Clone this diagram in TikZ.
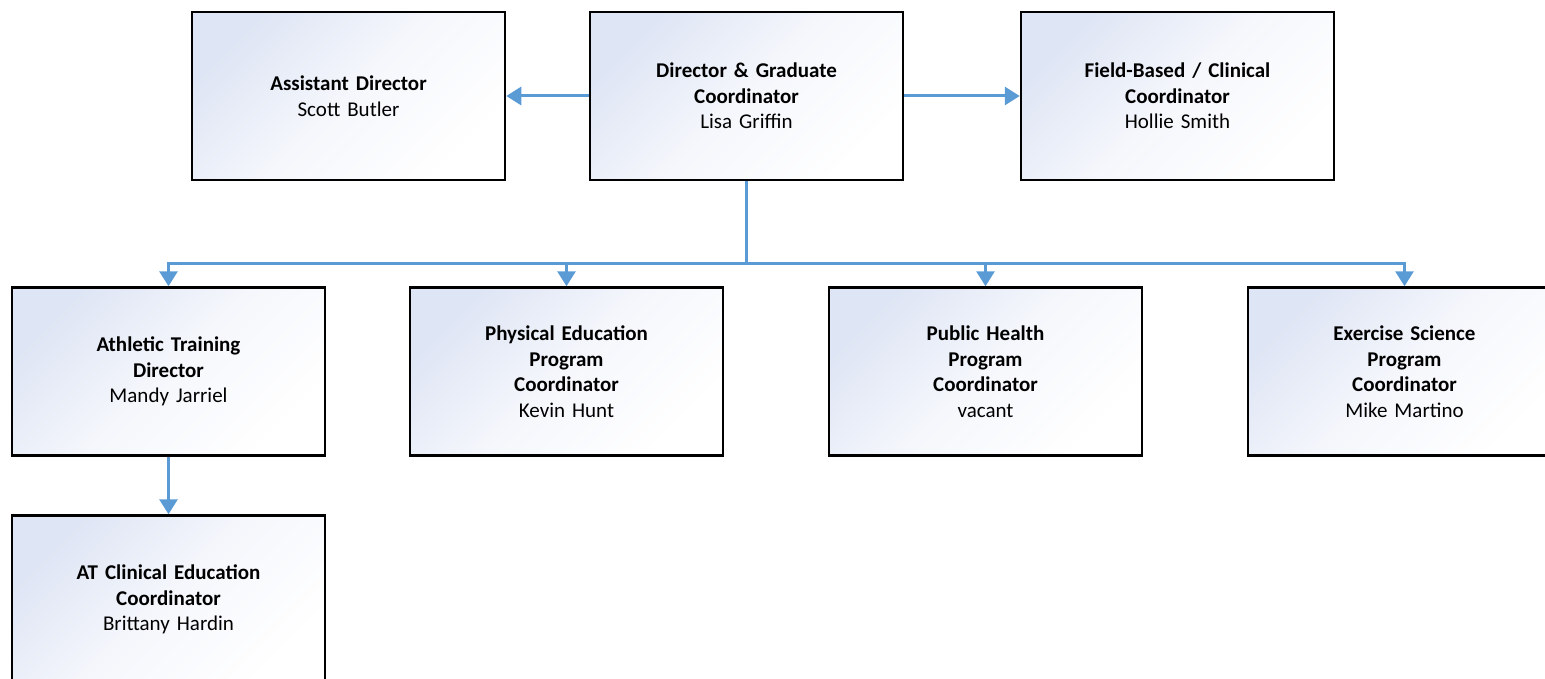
\documentclass[tikz,border=0pt]{standalone}
\usepackage{fontspec}
\setmainfont{Carlito}
\usetikzlibrary{arrows.meta}
\definecolor{lineblue}{RGB}{91,155,213}
\definecolor{boxtop}{RGB}{222,229,244}
\definecolor{boxmid}{RGB}{245,247,252}
\tikzset{
  orgbox/.style={draw=black, line width=2.5pt, minimum width=313pt, minimum height=168pt,
    inner sep=0pt, top color=boxtop, bottom color=white, middle color=boxmid, shading angle=45,
    align=center, text width=300pt, font=\fontsize{21}{25.5}\selectfont},
  conn/.style={draw=lineblue, line width=3pt, -{Triangle[width=18pt,length=15pt]}},
  plainconn/.style={draw=lineblue, line width=3pt},
}
\begin{document}
\begin{tikzpicture}[x=1pt,y=-1pt]
\useasboundingbox (0,0) rectangle (1545,679);
\clip (0,0) rectangle (1545,679);
\node[orgbox] (asst) at (348.5,96) {\textbf{Assistant Director}\\Scott Butler};
\node[orgbox] (dir) at (746.5,96) {\textbf{Director \& Graduate}\\\textbf{Coordinator}\\Lisa Griffin};
\node[orgbox] (field) at (1177.5,96) {\textbf{Field-Based / Clinical}\\\textbf{Coordinator}\\Hollie Smith};
\node[orgbox] (ath) at (168.5,371.5) {\textbf{Athletic Training}\\\textbf{Director}\\Mandy Jarriel};
\node[orgbox] (pe) at (566.5,371.5) {\textbf{Physical Education}\\\textbf{Program}\\\textbf{Coordinator}\\Kevin Hunt};
\node[orgbox] (ph) at (985.5,371.5) {\textbf{Public Health}\\\textbf{Program}\\\textbf{Coordinator}\\vacant};
\node[orgbox] (ex) at (1404.5,371.5) {\textbf{Exercise Science}\\\textbf{Program}\\\textbf{Coordinator}\\Mike Martino};
\node[orgbox] (atc) at (168.5,599.5) {\textbf{AT Clinical Education}\\\textbf{Coordinator}\\Brittany Hardin};
\coordinate (bus) at (746.5,263);
\draw[conn] (dir.west) -- (asst.east);
\draw[conn] (dir.east) -- (field.west);
\draw[plainconn] (dir.south) -- (bus);
\draw[conn] (bus) -| (ath.north);
\draw[conn] (bus) -| (pe.north);
\draw[conn] (bus) -| (ph.north);
\draw[conn] (bus) -| (ex.north);
\draw[conn] (ath.south) -- (atc.north);
\end{tikzpicture}
\end{document}
